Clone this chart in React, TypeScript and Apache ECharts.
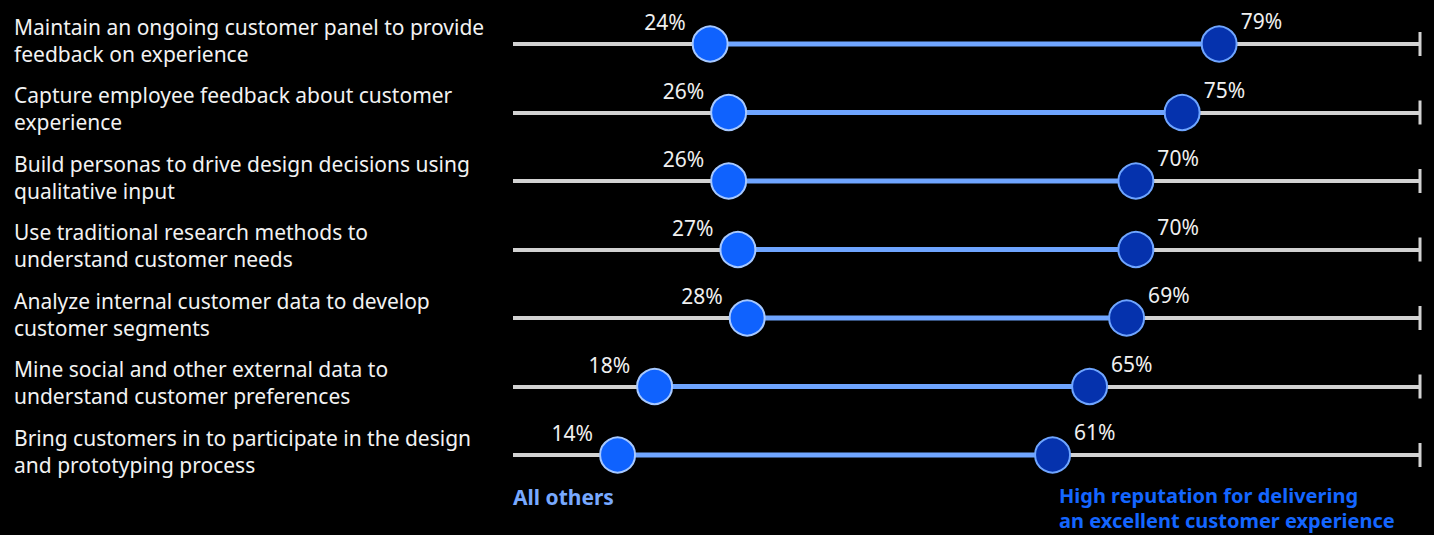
import React, { useEffect, useRef } from "react";
import * as echarts from "echarts";

const CATEGORIES: string[] = [
  "Maintain an ongoing customer panel to provide\nfeedback on experience",
  "Capture employee feedback about customer\nexperience",
  "Build personas to drive design decisions using\nqualitative input",
  "Use traditional research methods to\nunderstand customer needs",
  "Analyze internal customer data to develop\ncustomer segments",
  "Mine social and other external data to\nunderstand customer preferences",
  "Bring customers in to participate in the design\nand prototyping process",
];

const ALL_OTHERS: number[] = [24, 26, 26, 27, 28, 18, 14];
const HIGH_REPUTATION: number[] = [79, 75, 70, 70, 69, 65, 61];

const SERIES_NAMES: string[] = [
  "All others",
  "High reputation for delivering\nan excellent customer experience",
];

const AXIS_MIN = 2.7;
const AXIS_MAX = 100.7;

const FONT = "'Noto Sans', 'Open Sans', sans-serif";

export default function App() {
  const ref = useRef<HTMLDivElement>(null);

  useEffect(() => {
    if (!ref.current) return;
    const chart = echarts.init(ref.current, null, { renderer: "svg" });

    const connectorData = CATEGORIES.map((_, i) => [i, ALL_OTHERS[i], HIGH_REPUTATION[i]]);

    chart.setOption({
      animation: false,
      backgroundColor: "#000000",
      textStyle: { fontFamily: FONT },
      grid: { left: 513, right: 14, top: 44, bottom: 80, containLabel: false },
      xAxis: {
        type: "value",
        min: AXIS_MIN,
        max: AXIS_MAX,
        show: false,
        splitLine: { show: false },
      },
      yAxis: {
        type: "category",
        data: CATEGORIES,
        inverse: true,
        boundaryGap: false,
        axisLine: { show: false },
        axisTick: { show: false },
        splitLine: { show: true, lineStyle: { color: "#d2d2d2", width: 4 } },
        axisLabel: {
          align: "left",
          margin: 499,
          formatter: (v: string) =>
            v
              .split("\n")
              .map((l) => `{t|${l}}`)
              .join("\n") + "\n{s|}",
          rich: {
            t: {
              color: "#f2f2f2",
              fontFamily: FONT,
              fontSize: 21,
              lineHeight: 27,
            },
            s: { fontSize: 1, lineHeight: 8 },
          },
        },
      },
      series: [
        {
          type: "custom",
          name: "connector",
          data: connectorData,
          encode: { x: [1, 2], y: 0 },
          clip: false,
          z: 2,
          renderItem: (params: any, api: any) => {
            const a = api.coord([api.value(1), api.value(0)]);
            const b = api.coord([api.value(2), api.value(0)]);
            return {
              type: "line",
              shape: { x1: a[0], y1: a[1], x2: b[0], y2: b[1] },
              style: { stroke: "#6fa5ff", lineWidth: 5 },
            };
          },
        },
        {
          type: "scatter",
          name: "end",
          data: CATEGORIES.map((c) => [AXIS_MAX, c]),
          symbol: "rect",
          symbolSize: [3, 24],
          itemStyle: { color: "#d2d2d2", opacity: 1 },
          clip: false,
          silent: true,
          z: 2,
        },
        {
          type: "scatter",
          name: SERIES_NAMES[0],
          data: ALL_OTHERS.map((v, i) => [v, CATEGORIES[i]]),
          symbol: "circle",
          symbolSize: 35,
          itemStyle: { color: "#0f62fe", borderColor: "#a6c8ff", borderWidth: 2, opacity: 1 },
          clip: false,
          z: 3,
          label: {
            show: true,
            position: "left",
            distance: 6,
            offset: [0, -22],
            color: "#f0f0f0",
            fontFamily: FONT,
            fontSize: 21,
            formatter: (p: any) => p.value[0] + "%",
          },
        },
        {
          type: "scatter",
          name: SERIES_NAMES[1],
          data: HIGH_REPUTATION.map((v, i) => [v, CATEGORIES[i]]),
          symbol: "circle",
          symbolSize: 35,
          itemStyle: { color: "#0532ad", borderColor: "#6fa5ff", borderWidth: 2, opacity: 1 },
          clip: false,
          z: 3,
          label: {
            show: true,
            position: "right",
            distance: 3,
            offset: [0, -23],
            color: "#f0f0f0",
            fontFamily: FONT,
            fontSize: 21,
            formatter: (p: any) => p.value[0] + "%",
          },
        },
      ],
      graphic: [
        {
          type: "text",
          left: 513,
          top: 486,
          style: {
            text: SERIES_NAMES[0],
            fill: "#78a9ff",
            font: `bold 21px ${FONT}`,
          },
        },
        {
          type: "text",
          left: 1059,
          top: 483,
          style: {
            text: SERIES_NAMES[1],
            fill: "#1466ff",
            font: `bold 20px ${FONT}`,
            lineHeight: 25,
          },
        },
      ],
    });

    return () => chart.dispose();
  }, []);

  return (
    <div
      ref={ref}
      style={{ position: "fixed", left: 0, top: 0, width: 1434, height: 535, background: "#000" }}
    />
  );
}
